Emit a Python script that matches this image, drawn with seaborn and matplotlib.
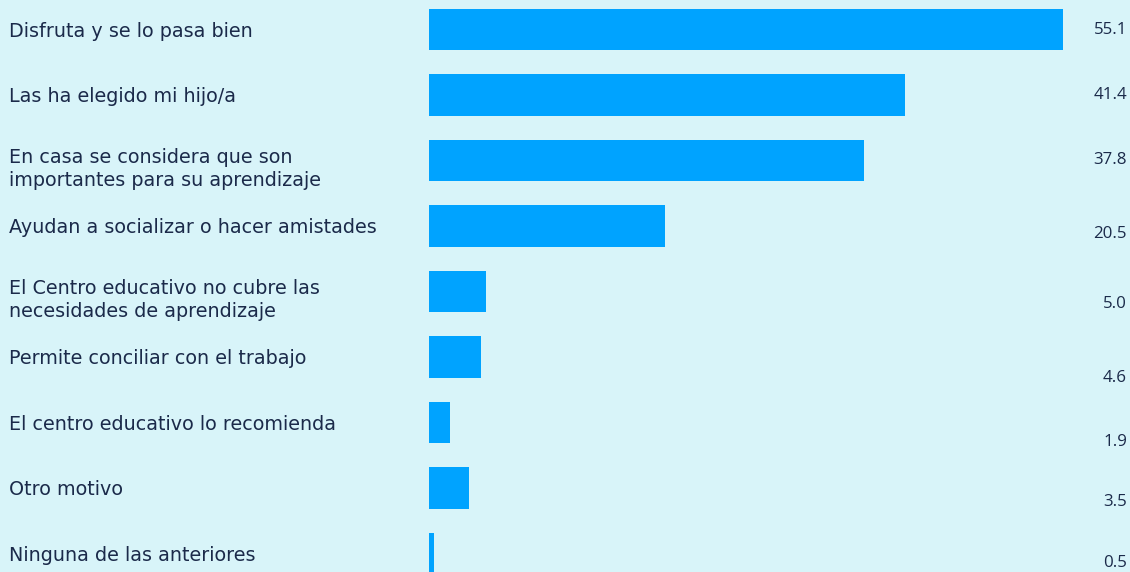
import matplotlib
matplotlib.use("Agg")
import matplotlib.pyplot as plt
import matplotlib.transforms as mtransforms
import seaborn as sns
import pandas as pd

categories = [
    "Disfruta y se lo pasa bien",
    "Las ha elegido mi hijo/a",
    "En casa se considera que son\nimportantes para su aprendizaje",
    "Ayudan a socializar o hacer amistades",
    "El Centro educativo no cubre las\nnecesidades de aprendizaje",
    "Permite conciliar con el trabajo",
    "El centro educativo lo recomienda",
    "Otro motivo",
    "Ninguna de las anteriores",
]
values = [55.1, 41.4, 37.8, 20.5, 5.0, 4.6, 1.9, 3.5, 0.5]
value_labels = ["55.1", "41.4", "37.8", "20.5", "5.0", "4.6", "1.9", "3.5", "0.5"]

# layout: vertical offset of value labels (in points, downward)
label_offsets = [0, 0, 0, -6, -9, -15, -14, -10, -7]

BG = "#d8f4f9"
BAR = "#00a3ff"
TXT = "#1b2a4a"

sns.set_theme(style="white")
plt.rcParams["font.family"] = ["DejaVu Sans"]

W, H = 1130, 572
fig = plt.figure(figsize=(W / 100, H / 100), dpi=100, facecolor=BG)
ax = fig.add_axes([428.5 / W, 0, 691 / W, 1])
ax.set_facecolor(BG)

df = pd.DataFrame({"cat": categories, "val": values})
sns.barplot(data=df, x="val", y="cat", orient="h", color=BAR, width=0.626,
            saturation=1, linewidth=0, ax=ax)

ax.set_xlim(0, 60)
ax.set_ylim((572 - 29.5) / 65.5, -29.5 / 65.5)
ax.set_xlabel("")
ax.set_ylabel("")
ax.set_xticks([])
ax.set_yticks([])
for s in ax.spines.values():
    s.set_visible(False)

trans_lab = mtransforms.blended_transform_factory(fig.transFigure, ax.transData)
for i, (cat, lab, off) in enumerate(zip(categories, value_labels, label_offsets)):
    ax.text(9 / W, i + (0.13 if "\n" in cat else 0.03), cat, transform=trans_lab,
            ha="left", va="center", fontsize=13.8, color=TXT, linespacing=1.3,
            fontfamily=["DejaVu Sans"])
    ax.text(1127 / W, i, lab, ha="right", va="center", fontsize=12.2,
            color=TXT, fontfamily=["Open Sans", "DejaVu Sans"],
            transform=trans_lab + mtransforms.ScaledTranslation(0, off / 72, fig.dpi_scale_trans))

fig.savefig("out.png", dpi=100, facecolor=BG)
